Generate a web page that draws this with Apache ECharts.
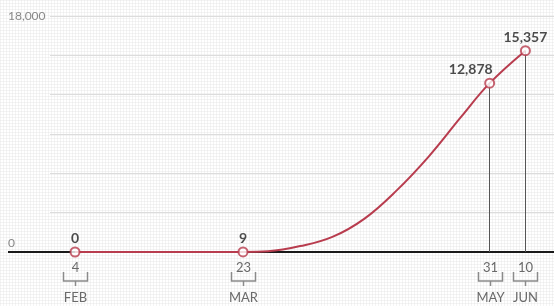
<!DOCTYPE html>
<html>
<head>
<meta charset="utf-8">
<script src="https://cdn.jsdelivr.net/npm/echarts@6/dist/echarts.min.js"></script>
<style>
  html, body { margin: 0; padding: 0; background: #fff; }
  #main { width: 554px; height: 306px; }
</style>
</head>
<body>
<div id="main"></div>
<script>
// curve
const dates = ['2021-02-04', '2021-03-23', '2021-03-30', '2021-04-08', '2021-04-17',
  '2021-04-26', '2021-05-05', '2021-05-14', '2021-05-23', '2021-05-31', '2021-06-10']
const cases = [0, 9, 60, 450, 1150, 2550, 4700, 7300, 10300, 12878, 15357]

// highlighted points
const keyDates = ['2021-02-04', '2021-03-23', '2021-05-31', '2021-06-10']
const keyCases = [0, 9, 12878, 15357]
const dayLabels = ['4', '23', '31', '10']
const monthLabels = ['FEB', 'MAR', 'MAY', 'JUN']

// y axis
const yMin = 0
const yMax = 18000
const yStep = 3000

const red = '#b83c4e'
const font = 'Lato'

// faint dotted paper texture
const tex = document.createElement('canvas')
tex.width = 3
tex.height = 3
const tctx = tex.getContext('2d')
tctx.fillStyle = '#ffffff'
tctx.fillRect(0, 0, 3, 3)
tctx.fillStyle = '#f4f4f4'
tctx.fillRect(0, 0, 3, 1)
tctx.fillRect(0, 0, 1, 3)
tctx.fillStyle = '#ececec'
tctx.fillRect(0, 0, 1, 1)

let mychart = echarts.init(document.getElementById('main'))

var option = {
    backgroundColor: { image: tex, repeat: 'repeat' },
    animation: false,
    grid: { left: 50, right: 0, top: 16, bottom: 54 },
    xAxis: {
        type: 'time',
        min: '2021-01-28',
        max: '2021-06-18',
        axisLine: { show: true, lineStyle: { color: '#1a1a1a', width: 2 } },
        axisTick: { show: false },
        splitLine: { show: false },
        axisLabel: { show: false }
    },
    yAxis: {
        type: 'value',
        min: yMin,
        max: yMax,
        interval: yStep,
        axisLine: { show: false },
        axisTick: { show: false },
        splitLine: { lineStyle: { color: '#dcdcdc', width: 1 } },
        axisLabel: {
            align: 'left',
            margin: 42,
            formatter: v => {
                if (v === yMax) return '{t|18,000}'
                if (v === yMin) return '{z|0}'
                return ''
            },
            rich: {
                t: { fontFamily: font, fontSize: 12, color: '#888' },
                z: { fontFamily: font, fontSize: 12, color: '#888', padding: [0, 0, 18, 0] }
            }
        }
    },
    series: [
        {
            type: 'line',
            data: dates.map((d, i) => [d, cases[i]]),
            smooth: 0.4,
            showSymbol: false,
            lineStyle: { color: red, width: 2 },
            z: 3,
            markLine: {
                silent: true,
                symbol: 'none',
                label: { show: false },
                lineStyle: { color: '#555', width: 1, type: 'solid' },
                data: [2, 3].map(i => [
                    { coord: [keyDates[i], 0] },
                    { coord: [keyDates[i], keyCases[i]] }
                ])
            }
        },
        {
            type: 'scatter',
            data: keyDates.map((d, i) => {
                const item = { value: [d, keyCases[i]] }
                if (i === 2) item.label = { align: 'right', offset: [3, 0] }
                return item
            }),
            symbol: 'circle',
            symbolSize: 9,
            itemStyle: { color: '#fff', borderColor: red, borderWidth: 2 },
            z: 5,
            label: {
                show: true,
                position: 'top',
                distance: 1,
                fontFamily: font,
                fontWeight: 'bold',
                fontSize: 14,
                color: '#1e1e1e',
                formatter: p => p.value[1].toLocaleString('en-US')
            }
        }
    ]
}

mychart.setOption(option)

// baseline runs under the y labels; day, bracket and month under each key date
const base = mychart.convertToPixel({ gridIndex: 0 }, ['2021-01-28', 0])
const graphics = [{
    type: 'line',
    shape: { x1: 8, y1: base[1], x2: base[0], y2: base[1] },
    style: { stroke: '#1a1a1a', lineWidth: 2 }
}]
keyDates.forEach((d, i) => {
    const p = mychart.convertToPixel({ gridIndex: 0 }, [d, 0])
    const x = Math.round(p[0]) + 0.5
    const y = Math.round(p[1])
    graphics.push({
        type: 'text',
        x: x, y: y + 16,
        style: { text: dayLabels[i], fontFamily: font, fontSize: 13, fill: '#6a6a6a', align: 'center', verticalAlign: 'middle' }
    })
    graphics.push({
        type: 'polyline',
        shape: { points: [[x - 12, y + 20], [x - 12, y + 29], [x + 12, y + 29], [x + 12, y + 20]] },
        style: { stroke: '#8a8a8a', lineWidth: 1.5, fill: null }
    })
    graphics.push({
        type: 'line',
        shape: { x1: x, y1: y + 29, x2: x, y2: y + 34 },
        style: { stroke: '#8a8a8a', lineWidth: 1.5 }
    })
    graphics.push({
        type: 'text',
        x: x, y: y + 46,
        style: { text: monthLabels[i], fontFamily: font, fontSize: 13, fill: '#6a6a6a', align: 'center', verticalAlign: 'middle' }
    })
})
mychart.setOption({ graphic: graphics })

window.addEventListener('resize', () => {
    mychart.resize()
})
</script>
</body>
</html>
